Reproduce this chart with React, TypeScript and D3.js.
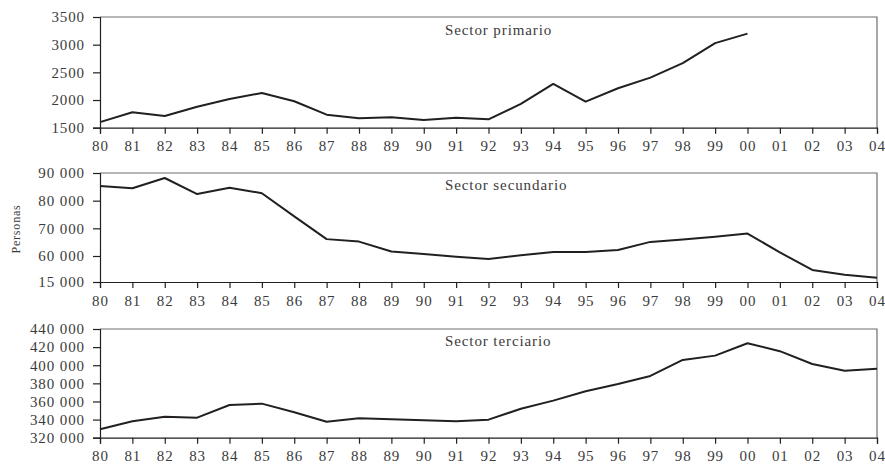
import { useEffect, useRef } from 'react';
import * as d3 from 'd3';

// years 1980 - 2004
const years: number[] = d3.range(1980, 2005);

const primario: number[] = [
	1600, 1780, 1712, 1880, 2020, 2128, 1978, 1735, 1670, 1688, 1640, 1680, 1652, 1929, 2291, 1970, 2213,
	2405, 2666, 3028, 3200
];

const secundario: number[] = [
	85300, 84500, 88200, 82400, 84700, 82700, 74300, 66100, 65200, 61600, 60700, 58800, 54800, 60250, 61450,
	61450, 62200, 65100, 66000, 67000, 68100, 61300, 35800, 27600, 22400
];

const terciario: number[] = [
	329300, 338100, 343200, 342100, 356100, 357600, 348100, 337700, 341400, 340300, 339200, 338100, 339900,
	352000, 360900, 371300, 379300, 388200, 405900, 410600, 424300, 415500, 401400, 394000, 396200
];

const primarioTicks: number[] = [1500, 2000, 2500, 3000, 3500];
const secundarioTicks: number[] = [15000, 60000, 70000, 80000, 90000];
const terciarioTicks: number[] = [320000, 340000, 360000, 380000, 400000, 420000, 440000];

const titles: string[] = ['Sector primario', 'Sector secundario', 'Sector terciario'];

const esLocale = d3.formatLocale({ decimal: ',', thousands: '\u00a0', grouping: [3], currency: ['', ''] });

const FONT = '"Liberation Serif", "Times New Roman", serif';
const INK = '#231f20';

function App() {
	const ref = useRef<SVGSVGElement>(null);

	useEffect(() => {
		const svg = d3.select(ref.current);
		svg.selectAll('*').remove();

		const left = 100;
		const right = 877;
		const x = d3.scaleLinear().domain([1980, 2004]).range([left, right]);

		const panels = [
			{
				title: titles[0],
				values: primario,
				ticks: primarioTicks,
				fmt: (d: number) => String(d),
				y: d3.scaleLinear().domain([1500, 3500]).range([127.7, 17]),
				titleY: 35
			},
			{
				title: titles[1],
				values: secundario,
				ticks: secundarioTicks,
				fmt: esLocale.format(',d'),
				// broken axis: 15 000 sits just below 60 000
				y: d3.scaleLinear().domain([15000, 60000, 90000]).range([282, 256, 173]),
				titleY: 190
			},
			{
				title: titles[2],
				values: terciario,
				ticks: terciarioTicks,
				fmt: esLocale.format(',d'),
				y: d3.scaleLinear().domain([320000, 440000]).range([437.7, 329]),
				titleY: 346
			}
		];

		panels.forEach((p) => {
			const [bottom, top] = p.y.range().length === 2 ? p.y.range() : [p.y.range()[0], p.y.range()[2]];
			const g = svg.append('g');

			// frame (top and right)
			g.append('path')
				.attr('d', `M${left},${top}H${right}V${bottom}`)
				.attr('fill', 'none')
				.attr('stroke', '#6d6e71')
				.attr('stroke-width', 1.2);

			const yAxis = d3
				.axisLeft(p.y)
				.tickValues(p.ticks)
				.tickFormat((d) => p.fmt(d as number))
				.tickSize(7)
				.tickPadding(8);
			const ya = g.append('g').attr('transform', `translate(${left},0)`).call(yAxis);

			const xAxis = d3
				.axisBottom(x)
				.tickValues(years)
				.tickFormat((d) => String((d as number) % 100).padStart(2, '0'))
				.tickSize(6)
				.tickPadding(7);
			const xa = g.append('g').attr('transform', `translate(0,${bottom})`).call(xAxis);

			[ya, xa].forEach((a) => {
				a.select('.domain').attr('stroke', INK).attr('stroke-width', 1.2);
				a.selectAll('.tick line').attr('stroke', INK).attr('stroke-width', 1.2);
				a.selectAll('.tick text')
					.attr('fill', '#3b3b3b')
					.style('font-family', FONT)
					.style('font-size', '15px')
					.style('letter-spacing', '0.9px');
			});

			const line = d3
				.line<number>()
				.x((_, i) => x(years[i]))
				.y((d) => p.y(d));

			g.append('path')
				.datum(p.values)
				.attr('d', line)
				.attr('fill', 'none')
				.attr('stroke', INK)
				.attr('stroke-width', 2)
				.attr('stroke-linejoin', 'round');

			g.append('text')
				.attr('x', 445)
				.attr('y', p.titleY)
				.text(p.title)
				.attr('fill', '#3b3b3b')
				.style('font-family', FONT)
				.style('font-size', '15px')
				.style('letter-spacing', '0.9px');
		});

		svg.append('text')
			.attr('transform', 'translate(20,229) rotate(-90)')
			.attr('text-anchor', 'middle')
			.text('Personas')
			.attr('fill', '#3b3b3b')
			.style('font-family', FONT)
			.style('font-size', '12px')
			.style('letter-spacing', '0.8px');
	}, []);

	return (
		<svg
			ref={ref}
			width={885}
			height={464}
			style={{ position: 'absolute', left: 0, top: 0, background: '#fff' }}
		/>
	);
}

export default App;
